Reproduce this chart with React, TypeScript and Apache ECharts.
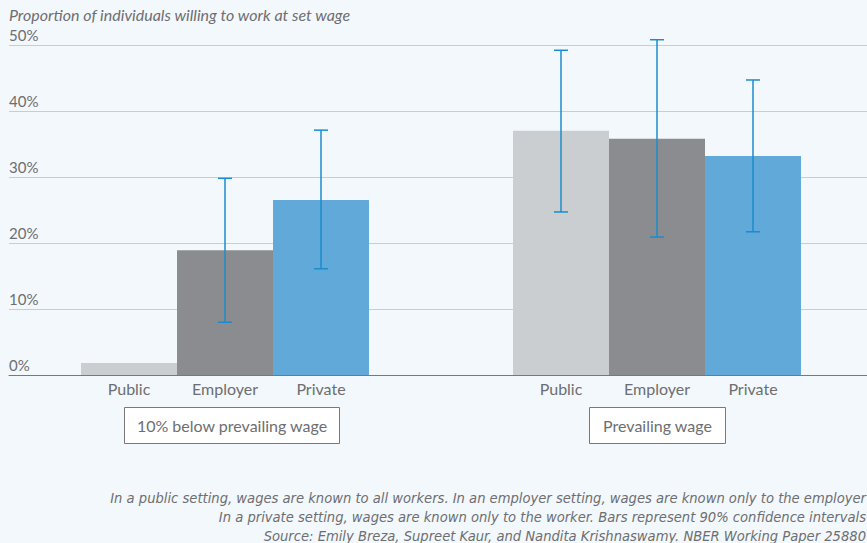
import React, { useEffect, useRef } from "react";
import * as echarts from "echarts";

const categories = ["Public", "Employer", "Private", "Public", "Employer", "Private"];
const positions = [1, 2, 3, 5.5, 6.5, 7.5];
const values = [1.8, 18.9, 26.5, 37.0, 35.8, 33.2];
const ciLow: (number | null)[] = [null, 8.0, 16.1, 24.7, 20.9, 21.7];
const ciHigh: (number | null)[] = [null, 29.8, 37.1, 49.2, 50.8, 44.7];
const barColors = ["#caced1", "#8b8c8f", "#60a9d8", "#caced1", "#8b8c8f", "#60a9d8"];
const groupLabels = ["10% below prevailing wage", "Prevailing wage"];
const yTicks = [0, 10, 20, 30, 40, 50];
const title = "Proportion of individuals willing to work at set wage";
const notes = [
  "In a public setting, wages are known to all workers. In an employer setting, wages are known only to the employer",
  "In a private setting, wages are known only to the worker. Bars represent 90% confidence intervals",
  "Source: Emily Breza, Supreet Kaur, and Nandita Krishnaswamy. NBER Working Paper 25880",
];

const FONT = "Lato, 'Source Sans Pro', 'Noto Sans', sans-serif";
const TXT = "#6d6e71";

export default function App() {
  const ref = useRef<HTMLDivElement>(null);
  useEffect(() => {
    document.body.style.margin = "0";
    document.body.style.background = "#f3f8fc";
    const chart = echarts.init(ref.current!, undefined, { renderer: "svg" });
    const option: any = {
      animation: false,
      backgroundColor: "#f3f8fc",
      textStyle: { fontFamily: FONT },
      grid: { left: 9, right: 0, top: 45, bottom: 168 },
      xAxis: {
        type: "value",
        min: -0.25,
        max: 8.6875,
        axisLine: { show: true, lineStyle: { color: "#77787b", width: 1 } },
        axisTick: { show: false },
        axisLabel: { show: false },
        splitLine: { show: false },
      },
      yAxis: {
        type: "value",
        min: yTicks[0],
        max: yTicks[yTicks.length - 1],
        interval: 10,
        axisLine: { show: false },
        axisTick: { show: false },
        axisLabel: {
          inside: true,
          verticalAlign: "bottom",
          margin: 0,
          padding: [0, 0, 3, 0],
          color: TXT,
          fontSize: 15,
          fontFamily: FONT,
          formatter: (v: number) => v + "%",
        },
        splitLine: { show: true, lineStyle: { color: "#c9ccd0", width: 1 } },
      },
      series: [
        {
          type: "bar",
          barWidth: 96,
          z: 2,
          data: positions.map((p, i) => ({
            value: [p, values[i]],
            name: categories[i],
            itemStyle: { color: barColors[i] },
          })),
          label: {
            show: true,
            position: "bottom",
            distance: 5,
            color: TXT,
            fontSize: 16,
            fontFamily: FONT,
            formatter: (p: any) => p.name,
          },
        },
        {
          type: "custom",
          z: 5,
          data: positions
            .map((p, i) => [p, ciLow[i], ciHigh[i]])
            .filter((d) => d[1] !== null),
          renderItem: (params: any, api: any) => {
            const x = api.value(0);
            const lo = api.coord([x, api.value(1)]);
            const hi = api.coord([x, api.value(2)]);
            const hw = 7;
            const style = { stroke: "#1b8ccd", lineWidth: 1.5 };
            return {
              type: "group",
              children: [
                { type: "line", shape: { x1: lo[0], y1: lo[1], x2: hi[0], y2: hi[1] }, style },
                { type: "line", shape: { x1: hi[0] - hw, y1: hi[1], x2: hi[0] + hw, y2: hi[1] }, style },
                { type: "line", shape: { x1: lo[0] - hw, y1: lo[1], x2: lo[0] + hw, y2: lo[1] }, style },
              ],
            };
          },
        },
      ],
      graphic: [
        {
          type: "text",
          left: 9,
          top: 6,
          style: { text: title, fill: TXT, font: `italic 16px ${FONT}` },
        },
        {
          type: "group",
          left: 124,
          top: 407,
          children: [
            { type: "rect", shape: { x: 0, y: 0, width: 215, height: 36 }, style: { fill: "#ffffff", stroke: "#77787b", lineWidth: 1 } },
            { type: "text", x: 107.5, y: 18, style: { text: groupLabels[0], fill: TXT, font: `16px ${FONT}`, align: "center", verticalAlign: "middle" } },
          ],
        },
        {
          type: "group",
          left: 589,
          top: 407,
          children: [
            { type: "rect", shape: { x: 0, y: 0, width: 136, height: 36 }, style: { fill: "#ffffff", stroke: "#77787b", lineWidth: 1 } },
            { type: "text", x: 68, y: 18, style: { text: groupLabels[1], fill: TXT, font: `16px ${FONT}`, align: "center", verticalAlign: "middle" } },
          ],
        },
        ...notes.map((t, i) => ({
          type: "text",
          x: 866,
          y: 497 + i * 19,
          style: {
            text: t,
            fill: TXT,
            font: `italic 14.6px 'DejaVu Sans Condensed', ${FONT}`,
            align: "right",
            verticalAlign: "middle",
          },
        })),
      ],
    };
    chart.setOption(option);
    return () => chart.dispose();
  }, []);
  return <div ref={ref} style={{ width: 867, height: 543 }} />;
}
